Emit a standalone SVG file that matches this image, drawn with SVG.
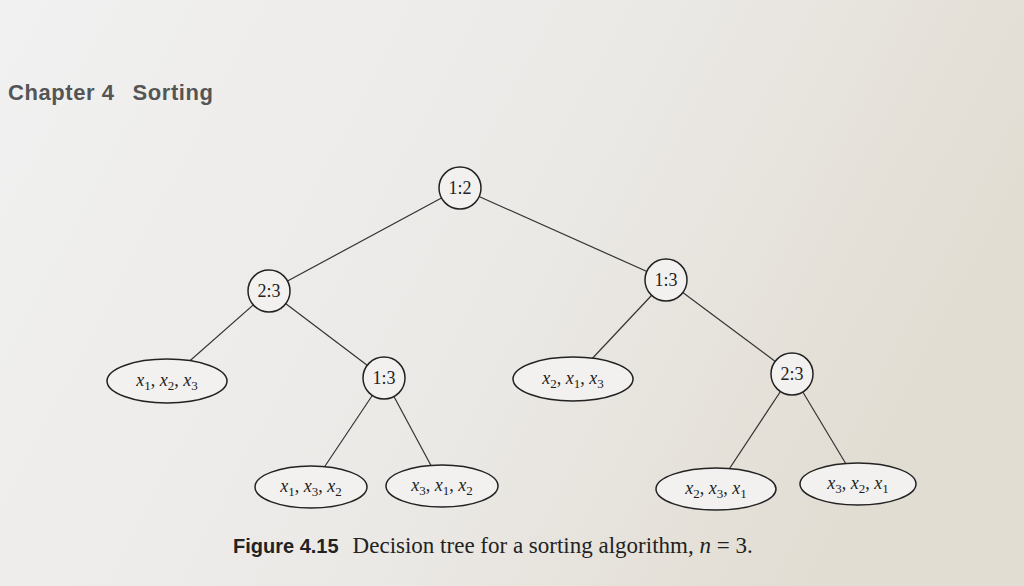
<svg xmlns="http://www.w3.org/2000/svg" width="1024" height="586" viewBox="0 0 1024 586">
<defs>
<linearGradient id="bg" x1="0" y1="0" x2="1" y2="0.3">
<stop offset="0" stop-color="#f1f1f1"/><stop offset="0.6" stop-color="#ebe9e6"/><stop offset="1" stop-color="#e2ddd3"/>
</linearGradient>
<style>
.n{fill:#f2f1ef;stroke:#222;stroke-width:1.5}
.e line{stroke:#333;stroke-width:1.2}
.t{font-family:"Liberation Serif",serif;font-size:18px;fill:#222;text-anchor:middle}
.v{font-style:italic}
.s{font-size:13px;font-style:normal}
</style>
</defs>
<rect width="1024" height="586" fill="url(#bg)"/>
<text x="8" y="100" font-family="Liberation Sans,sans-serif" font-size="22" font-weight="bold" fill="#555" textLength="205">Chapter 4<tspan dx="18">Sorting</tspan></text>
<g class="e">
<line x1="460" y1="188" x2="269" y2="291"/>
<line x1="460" y1="188" x2="666" y2="280"/>
<line x1="269" y1="291" x2="167" y2="381"/>
<line x1="269" y1="291" x2="384" y2="378"/>
<line x1="666" y1="280" x2="573" y2="379"/>
<line x1="666" y1="280" x2="792" y2="374"/>
<line x1="384" y1="378" x2="311" y2="487"/>
<line x1="384" y1="378" x2="442" y2="486"/>
<line x1="792" y1="374" x2="716" y2="489"/>
<line x1="792" y1="374" x2="858" y2="484"/>
</g>
<g id="n12"><circle class="n" cx="460" cy="188" r="21"/><text class="t" x="460" y="194">1:2</text></g>
<g id="n23a"><circle class="n" cx="269" cy="291" r="21"/><text class="t" x="269" y="297">2:3</text></g>
<g id="n13a"><circle class="n" cx="666" cy="280" r="21"/><text class="t" x="666" y="286">1:3</text></g>
<g id="n13b"><circle class="n" cx="384" cy="378" r="21"/><text class="t" x="384" y="384">1:3</text></g>
<g id="n23b"><circle class="n" cx="792" cy="374" r="21"/><text class="t" x="792" y="380">2:3</text></g>
<g id="l123"><ellipse class="n" cx="167" cy="381" rx="60" ry="22"/><text class="t" x="167" y="386"><tspan class="v">x</tspan><tspan class="s" dy="4">1</tspan><tspan dy="-4">, </tspan><tspan class="v">x</tspan><tspan class="s" dy="4">2</tspan><tspan dy="-4">, </tspan><tspan class="v">x</tspan><tspan class="s" dy="4">3</tspan></text></g>
<g id="l213"><ellipse class="n" cx="573" cy="379" rx="60" ry="22"/><text class="t" x="573" y="384"><tspan class="v">x</tspan><tspan class="s" dy="4">2</tspan><tspan dy="-4">, </tspan><tspan class="v">x</tspan><tspan class="s" dy="4">1</tspan><tspan dy="-4">, </tspan><tspan class="v">x</tspan><tspan class="s" dy="4">3</tspan></text></g>
<g id="l132"><ellipse class="n" cx="311" cy="487" rx="56" ry="21"/><text class="t" x="311" y="492"><tspan class="v">x</tspan><tspan class="s" dy="4">1</tspan><tspan dy="-4">, </tspan><tspan class="v">x</tspan><tspan class="s" dy="4">3</tspan><tspan dy="-4">, </tspan><tspan class="v">x</tspan><tspan class="s" dy="4">2</tspan></text></g>
<g id="l312"><ellipse class="n" cx="442" cy="486" rx="56" ry="21"/><text class="t" x="442" y="491"><tspan class="v">x</tspan><tspan class="s" dy="4">3</tspan><tspan dy="-4">, </tspan><tspan class="v">x</tspan><tspan class="s" dy="4">1</tspan><tspan dy="-4">, </tspan><tspan class="v">x</tspan><tspan class="s" dy="4">2</tspan></text></g>
<g id="l231"><ellipse class="n" cx="716" cy="489" rx="60" ry="21"/><text class="t" x="716" y="494"><tspan class="v">x</tspan><tspan class="s" dy="4">2</tspan><tspan dy="-4">, </tspan><tspan class="v">x</tspan><tspan class="s" dy="4">3</tspan><tspan dy="-4">, </tspan><tspan class="v">x</tspan><tspan class="s" dy="4">1</tspan></text></g>
<g id="l321"><ellipse class="n" cx="858" cy="484" rx="58" ry="21"/><text class="t" x="858" y="489"><tspan class="v">x</tspan><tspan class="s" dy="4">3</tspan><tspan dy="-4">, </tspan><tspan class="v">x</tspan><tspan class="s" dy="4">2</tspan><tspan dy="-4">, </tspan><tspan class="v">x</tspan><tspan class="s" dy="4">1</tspan></text></g>
<text x="233" y="553" font-family="Liberation Serif,serif" font-size="23" fill="#222"><tspan font-family="Liberation Sans,sans-serif" font-weight="bold" font-size="20">Figure 4.15</tspan><tspan dx="14">Decision tree for a sorting algorithm, </tspan><tspan font-style="italic">n</tspan> = 3.</text>
</svg>
